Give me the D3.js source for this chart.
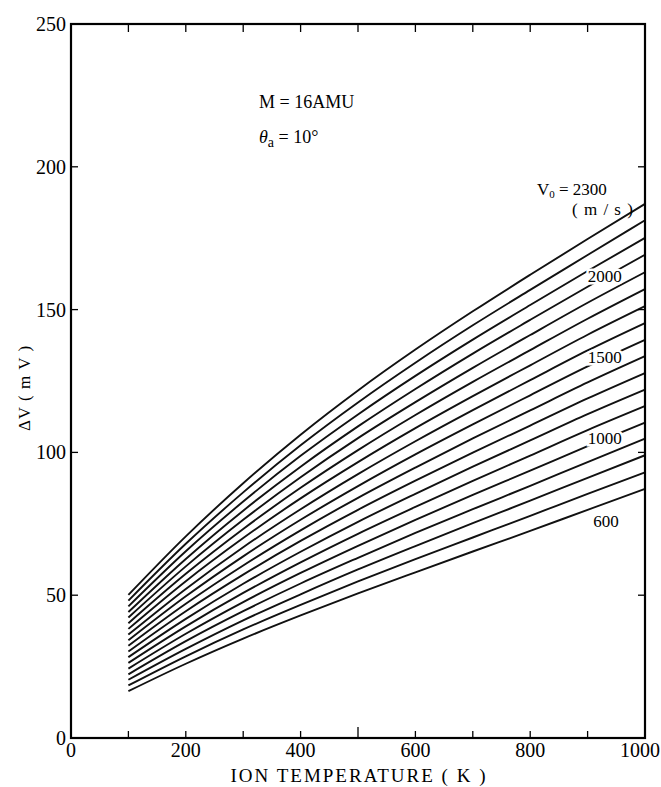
<!DOCTYPE html>
<html><head><meta charset="utf-8">
<script src="https://cdn.jsdelivr.net/npm/d3@7"></script>
<style>body{margin:0;background:#fff}svg{display:block}</style>
</head><body>
<svg id="c" width="661" height="787"></svg>
<script>
// ---- data ----
const temperatures = [100, 200, 300, 400, 500, 600, 700, 800, 900, 1000];
const v0Values = [600, 700, 800, 900, 1000, 1100, 1200, 1300, 1400, 1500, 1600, 1700, 1800, 1900, 2000, 2100, 2200, 2300];
const dv600  = [16.4, 26.0, 34.8, 42.9, 50.6, 58.0, 65.3, 72.5, 79.9, 87.2];
const dv700  = [18.4, 28.6, 38.0, 46.6, 54.8, 62.6, 70.2, 77.8, 85.5, 93.0];
const dv800  = [20.4, 31.2, 41.2, 50.3, 59.0, 67.2, 75.2, 83.1, 91.1, 99.0];
const dv900  = [22.3, 33.9, 44.4, 54.1, 63.1, 71.8, 80.1, 88.3, 96.6, 104.8];
const dv1000 = [24.3, 36.5, 47.6, 57.8, 67.3, 76.4, 85.1, 93.6, 102.2, 110.4];
const dv1100 = [26.3, 39.1, 50.8, 61.5, 71.5, 80.9, 90.0, 98.9, 107.8, 116.2];
const dv1200 = [28.3, 41.7, 54.0, 65.2, 75.7, 85.5, 95.0, 104.2, 113.4, 122.0];
const dv1300 = [30.3, 44.4, 57.2, 69.0, 79.9, 90.1, 99.9, 109.4, 118.9, 127.8];
const dv1400 = [32.3, 47.0, 60.4, 72.7, 84.1, 94.7, 104.9, 114.7, 124.5, 133.7];
const dv1500 = [34.2, 49.6, 63.6, 76.4, 88.2, 99.3, 109.8, 120.0, 130.1, 139.4];
const dv1600 = [36.2, 52.2, 66.8, 80.1, 92.4, 103.9, 114.8, 125.3, 135.7, 145.3];
const dv1700 = [38.2, 54.9, 70.0, 83.9, 96.6, 108.5, 119.7, 130.5, 141.2, 151.2];
const dv1800 = [40.2, 57.5, 73.2, 87.6, 100.8, 113.1, 124.7, 135.8, 146.8, 157.2];
const dv1900 = [42.2, 60.1, 76.4, 91.3, 105.0, 117.6, 129.6, 141.1, 152.4, 163.1];
const dv2000 = [44.1, 62.7, 79.6, 95.0, 109.1, 122.2, 134.6, 146.4, 158.0, 169.2];
const dv2100 = [46.1, 65.4, 82.8, 98.8, 113.3, 126.8, 139.5, 151.6, 163.5, 175.1];
const dv2200 = [48.1, 68.0, 86.0, 102.5, 117.5, 131.4, 144.5, 156.9, 169.1, 181.3];
const dv2300 = [50.1, 70.6, 89.2, 106.2, 121.7, 136.0, 149.4, 162.2, 174.7, 187.0];
const xTickLabels = [0, 200, 400, 600, 800, 1000];
const yTickLabels = [0, 50, 100, 150, 200, 250];
const inlineLabels = [2000, 1500, 1000];

const seriesValues = [dv600, dv700, dv800, dv900, dv1000, dv1100, dv1200, dv1300, dv1400,
  dv1500, dv1600, dv1700, dv1800, dv1900, dv2000, dv2100, dv2200, dv2300];
const series = v0Values.map((v, i) => ({v0: v, pts: temperatures.map((t, j) => [t, seriesValues[i][j]])}));

// ---- drawing ----
const svg = d3.select('#c');
const L = 71, R = 645, T = 24, B = 738;
const x = d3.scaleLinear().domain([0, 1000]).range([L, R]);
const y = d3.scaleLinear().domain([0, 250]).range([B, T]);
const serif = 'Liberation Serif, DejaVu Serif, serif';

// curves
const line = d3.line().x(d => x(d[0])).y(d => y(d[1])).curve(d3.curveMonotoneX);
svg.append('g').selectAll('path').data(series).join('path')
  .attr('d', d => line(d.pts)).attr('fill', 'none').attr('stroke', '#111')
  .attr('stroke-width', 1.9).attr('stroke-linejoin', 'round');

// frame
svg.append('rect').attr('x', L).attr('y', T).attr('width', R - L).attr('height', B - T)
  .attr('fill', 'none').attr('stroke', '#000').attr('stroke-width', 2.2);

// x ticks (bottom and top, inward)
const xt = d3.range(100, 1000, 100);
svg.append('g').selectAll('line').data(xt).join('line')
  .attr('x1', d => x(d)).attr('x2', d => x(d)).attr('y1', B).attr('y2', d => B - (d === 500 ? 11 : 7))
  .attr('stroke', '#000').attr('stroke-width', 1.3);
svg.append('g').selectAll('line').data(xt).join('line')
  .attr('x1', d => x(d)).attr('x2', d => x(d)).attr('y1', T).attr('y2', T + 8)
  .attr('stroke', '#000').attr('stroke-width', 1.3);
// y ticks (left and right, inward)
const yt = [50, 100, 150, 200];
svg.append('g').selectAll('line').data(yt).join('line')
  .attr('x1', L).attr('x2', L + 7).attr('y1', d => y(d)).attr('y2', d => y(d))
  .attr('stroke', '#000').attr('stroke-width', 1.3);
svg.append('g').selectAll('line').data(yt).join('line')
  .attr('x1', R).attr('x2', R - 7).attr('y1', d => y(d)).attr('y2', d => y(d))
  .attr('stroke', '#000').attr('stroke-width', 1.3);

// tick labels
svg.append('g').selectAll('text').data(xTickLabels).join('text')
  .attr('x', d => d === 1000 ? 660 : x(d)).attr('y', 757)
  .attr('text-anchor', d => d === 1000 ? 'end' : 'middle')
  .attr('font-family', serif).attr('font-size', 20).text(d => d);
svg.append('g').selectAll('text').data(yTickLabels).join('text')
  .attr('x', 66).attr('y', d => y(d) + 7).attr('text-anchor', 'end')
  .attr('font-family', serif).attr('font-size', 20).text(d => d);

// axis titles
svg.append('text').attr('x', 359).attr('y', 782).attr('text-anchor', 'middle')
  .attr('font-family', serif).attr('font-size', 19).attr('letter-spacing', 2)
  .text('ION  TEMPERATURE ( K )');
svg.append('text').attr('transform', 'translate(30,388) rotate(-90)').attr('text-anchor', 'middle')
  .attr('font-family', serif).attr('font-size', 17).attr('letter-spacing', 1)
  .text('ΔV ( m V )');

// annotations
svg.append('text').attr('x', 259).attr('y', 108)
  .attr('font-family', serif).attr('font-size', 18).text('M = 16AMU');
const th = svg.append('text').attr('x', 259).attr('y', 143)
  .attr('font-family', serif).attr('font-size', 18);
th.append('tspan').attr('font-style', 'italic').text('θ');
th.append('tspan').attr('dy', 4).attr('font-size', 14).text('a');
th.append('tspan').attr('dy', -4).text(' = 10°');

// curve labels
const vt = svg.append('text').attr('x', 537).attr('y', 195)
  .attr('font-family', serif).attr('font-size', 17);
vt.append('tspan').text('V');
vt.append('tspan').attr('dy', 3).attr('font-size', 11).text('0');
vt.append('tspan').attr('dy', -3).text(' = 2300');
svg.append('text').attr('x', 572).attr('y', 215)
  .attr('font-family', serif).attr('font-size', 17).attr('letter-spacing', 1).text('( m / s )');

const labT = 930;
inlineLabels.forEach(v => {
  const s = series.find(d => d.v0 === v);
  const i = temperatures.indexOf(900);
  const f = (labT - 900) / 100;
  const val = s.pts[i][1] + f * (s.pts[i + 1][1] - s.pts[i][1]);
  svg.append('text').attr('x', x(labT)).attr('y', y(val) + 5).attr('text-anchor', 'middle')
    .attr('font-family', serif).attr('font-size', 17)
    .attr('stroke', '#fff').attr('stroke-width', 5).attr('paint-order', 'stroke')
    .attr('fill', '#000').text(v);
});
svg.append('text').attr('x', 606).attr('y', 527).attr('text-anchor', 'middle')
  .attr('font-family', serif).attr('font-size', 17).text(600);
</script>
</body></html>
